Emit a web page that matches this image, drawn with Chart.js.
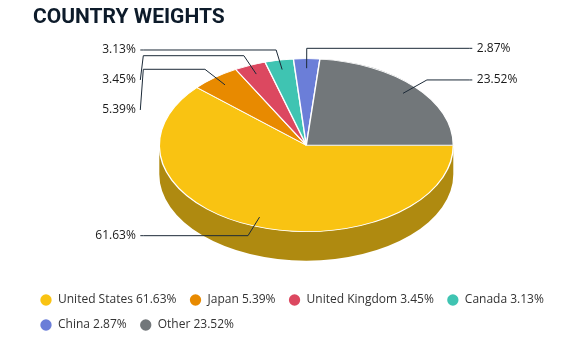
<!DOCTYPE html>
<html>
<head>
<meta charset="utf-8">
<script src="https://cdn.jsdelivr.net/npm/chart.js@4.4.1/dist/chart.umd.min.js"></script>
<style>
  html, body { margin: 0; padding: 0; background: #ffffff; }
</style>
</head>
<body>
<canvas id="countryChart" width="572" height="347"></canvas>
<script>
// data
const categories = ['United States', 'Japan', 'United Kingdom', 'Canada', 'China', 'Other'];
const weights = [61.63, 5.39, 3.45, 3.13, 2.87, 23.52];

const sliceColors = ['#f9c312', '#e88a00', '#dc4860', '#3fc4b2', '#6b7ed8', '#72777a'];
const sideColors = ['#af8a10', '#a36100', '#9a3243', '#2c897d', '#4b5897', '#505355'];

const PIE_RADIUS = 147;      // horizontal radius of the top face
const FLATTEN = 86.5 / 147;  // vertical squash of the disc
const DEPTH = 29;            // thickness of the disc
const PIE_SHIFT = 6.8;       // pie sits a bit right of the middle

Chart.defaults.font.family = "'Open Sans', sans-serif";

// draws the disc side, squashes the pie and adds the outside labels
const pie3d = {
  id: 'pie3d',
  afterLayout(chart) {
    chart.chartArea.left += PIE_SHIFT;
    chart.chartArea.right += PIE_SHIFT;
  },
  beforeDatasetsDraw(chart) {
    const ctx = chart.ctx;
    const arcs = chart.getDatasetMeta(0).data;
    const cx = arcs[0].x, cy = arcs[0].y;
    const rx = arcs[0].outerRadius, ry = rx * FLATTEN;

    // only the front half of the side wall (angles 0..PI) can be seen
    arcs.forEach((arc, i) => {
      for (let k = -1; k <= 1; k++) {
        let s = Math.max(arc.startAngle, k * 2 * Math.PI);
        let e = Math.min(arc.endAngle, k * 2 * Math.PI + Math.PI);
        if (e <= s) continue;
        ctx.beginPath();
        ctx.ellipse(cx, cy, rx, ry, 0, s, e);
        ctx.ellipse(cx, cy + DEPTH, rx, ry, 0, e, s, true);
        ctx.closePath();
        ctx.fillStyle = sideColors[i];
        ctx.fill();
      }
    });

    ctx.save();
    ctx.translate(0, cy);
    ctx.scale(1, FLATTEN);
    ctx.translate(0, -cy);
  },
  afterDatasetsDraw(chart) {
    const ctx = chart.ctx;
    ctx.restore();

    const arcs = chart.getDatasetMeta(0).data;
    const cx = arcs[0].x, cy = arcs[0].y;
    const rx = arcs[0].outerRadius, ry = rx * FLATTEN;

    let items = arcs.map((arc, i) => {
      let mid = (arc.startAngle + arc.endAngle) / 2;
      let c = Math.cos(mid), s = Math.sin(mid);
      return {
        i: i,
        left: c < 0,
        ax: cx + 0.89 * rx * c, ay: cy + 0.89 * ry * s,
        bx: cx + 1.11 * rx * c, by: cy + 1.12 * ry * s
      };
    });

    // push labels down so they do not overlap
    [true, false].forEach(side => {
      let group = items.filter(it => it.left === side).sort((a, b) => a.by - b.by);
      let prev = -Infinity;
      group.forEach(it => {
        it.ly = Math.max(it.by, prev + 30);
        prev = it.ly;
      });
    });

    ctx.save();
    ctx.lineWidth = 1;
    ctx.strokeStyle = '#1c2a38';
    ctx.font = "12px 'Open Sans'";
    ctx.fillStyle = '#1a1a1a';
    ctx.textBaseline = 'middle';
    items.forEach(it => {
      let dir = it.left ? -1 : 1;
      let edgeX = cx + dir * 166;
      ctx.beginPath();
      ctx.moveTo(edgeX, it.ly);
      ctx.lineTo(edgeX - dir * 3, it.by);
      ctx.lineTo(it.bx, it.by);
      ctx.lineTo(it.ax, it.ay);
      ctx.stroke();
      ctx.textAlign = it.left ? 'right' : 'left';
      ctx.fillText(weights[it.i].toFixed(2) + '%', edgeX + dir * 4.5, it.ly);
    });

    // title
    ctx.font = "bold 21px Roboto";
    ctx.fillStyle = '#0d1b2a';
    ctx.textAlign = 'left';
    ctx.textBaseline = 'alphabetic';
    ctx.fillText('COUNTRY WEIGHTS', 33, 23);
    ctx.restore();
  }
};

const canvas = document.getElementById('countryChart');

new Chart(canvas, {
  type: 'pie',
  data: {
    labels: categories,
    datasets: [{
      data: weights,
      backgroundColor: sliceColors,
      borderColor: '#ffffff',
      borderWidth: 1.4,
      radius: PIE_RADIUS,
      rotation: 90,
      clip: false
    }]
  },
  options: {
    responsive: false,
    animation: false,
    events: [],
    layout: {
      padding: { left: 27, right: 0, top: 9.4, bottom: 6 }
    },
    plugins: {
      title: { display: false },
      tooltip: { enabled: false },
      legend: {
        position: 'bottom',
        align: 'start',
        labels: {
          usePointStyle: true,
          pointStyle: 'circle',
          boxWidth: 12,
          boxHeight: 8,
          padding: 13,
          color: '#333333',
          font: { size: 12 },
          generateLabels(chart) {
            let items = Chart.overrides.doughnut.plugins.legend.labels.generateLabels(chart);
            items.forEach(item => {
              item.text = item.text + ' ' + weights[item.index].toFixed(2) + '%';
              item.strokeStyle = item.fillStyle;
              item.lineWidth = 0;
            });
            return items;
          }
        }
      }
    }
  },
  plugins: [pie3d]
});
</script>
</body>
</html>
